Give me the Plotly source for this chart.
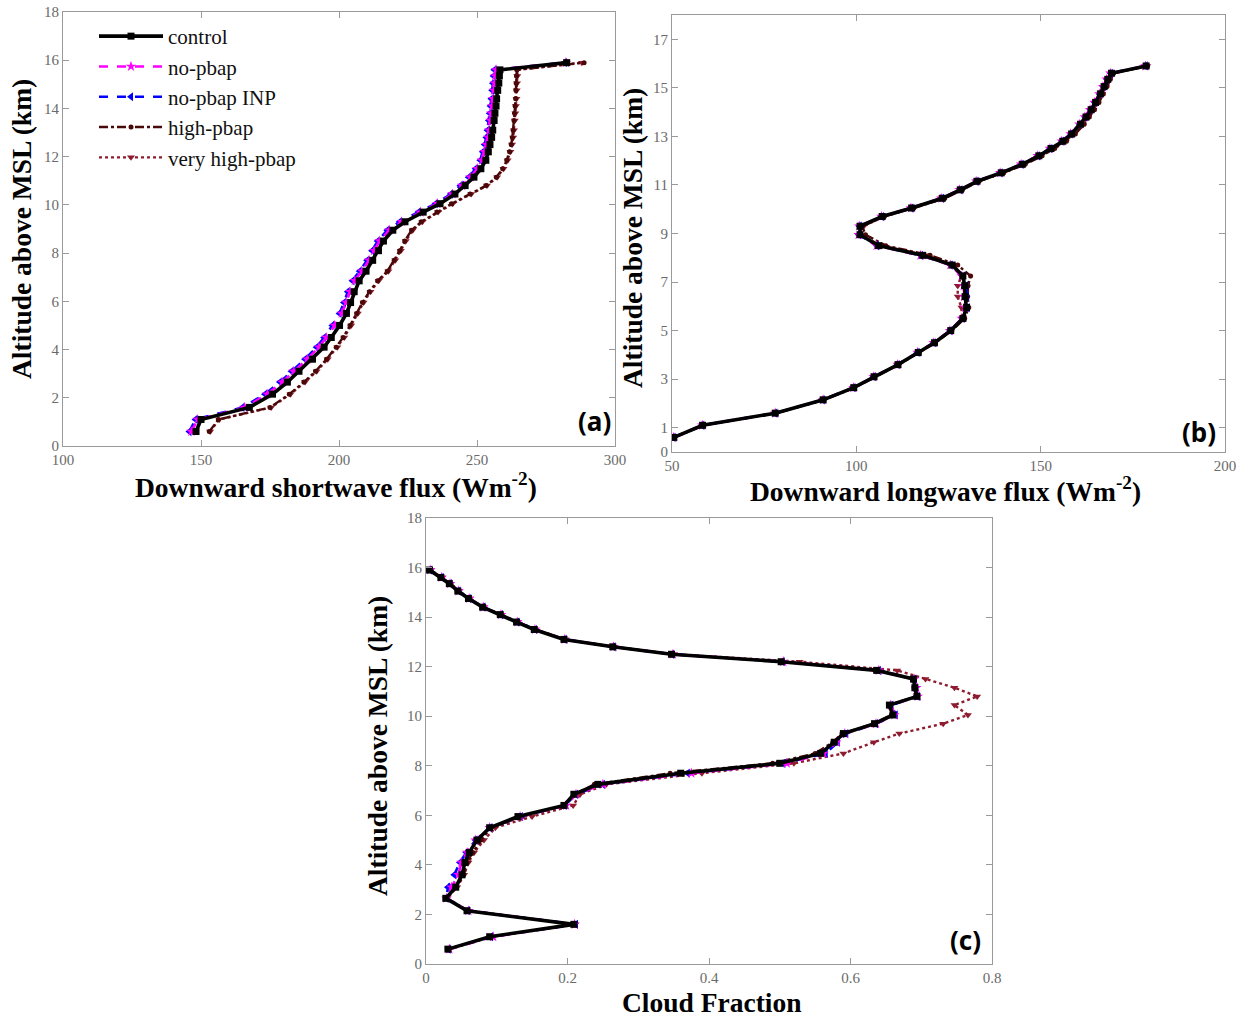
import plotly.graph_objects as go

# ---------------- data ----------------
levels = [0.6, 1.1, 1.6, 2.15, 2.65, 3.1, 3.6, 4.1, 4.5, 5.0, 5.5, 5.95, 6.4, 6.85,
          7.25, 7.7, 8.1, 8.5, 8.95, 9.3, 9.7, 10.05, 10.45, 10.8, 11.15, 11.5, 11.85,
          12.2, 12.5, 12.8, 13.1, 13.5, 13.8, 14.1, 14.4, 14.75, 15.05, 15.35, 15.6, 15.9]

series_names = ["control", "no-pbap", "no-pbap INP", "high-pbap", "very high-pbap"]

# (a) Downward shortwave flux (W m-2)
sw_control = [148.2, 150.0, 167.5, 175.9, 181.3, 185.5, 190.4, 194.6, 197.2, 200.2, 202.7, 204.2, 205.5, 207.3,
              209.8, 212.2, 214.3, 216.1, 219.5, 223.9, 230.5, 236.6, 242.0, 245.7, 248.9, 251.4, 253.2,
              254.1, 254.7, 255.3, 255.7, 256.2, 256.5, 256.9, 257.1, 257.5, 257.9, 258.1, 258.3, 282.5]
sw_nopbap = [146.5, 148.8, 165.8, 174.0, 179.4, 183.6, 188.5, 192.7, 195.4, 198.4, 201.0, 202.6, 204.0, 205.7,
             208.3, 210.9, 212.7, 214.7, 218.2, 222.7, 229.5, 235.6, 241.1, 244.6, 247.6, 250.1, 251.8,
             252.7, 253.4, 254.0, 254.4, 254.9, 255.2, 255.5, 255.8, 256.1, 256.4, 256.6, 256.9, 282.2]
sw_nopbap_inp = [145.8, 148.0, 165.0, 173.2, 178.6, 182.8, 187.7, 191.9, 194.6, 197.6, 200.2, 201.8, 203.2, 204.9,
                 207.5, 210.2, 212.0, 214.0, 217.5, 222.0, 228.8, 235.0, 240.5, 244.0, 247.0, 249.5, 251.2,
                 252.1, 252.8, 253.4, 253.8, 254.3, 254.6, 254.9, 255.2, 255.5, 255.8, 256.0, 256.3, 281.8]
sw_high = [153.0, 156.3, 175.0, 182.0, 187.3, 191.5, 195.5, 199.0, 201.5, 204.0, 206.4, 208.5, 211.0, 214.0,
           217.5, 220.0, 222.0, 223.8, 226.3, 229.8, 235.5, 240.8, 247.5, 253.3, 257.0, 259.3, 260.8,
           261.8, 262.4, 262.8, 263.1, 263.4, 263.6, 263.8, 264.0, 264.1, 264.2, 264.3, 264.4, 288.8]
sw_veryhigh = [153.3, 156.6, 175.4, 182.4, 187.7, 191.9, 195.9, 199.4, 201.9, 204.4, 206.8, 208.9, 211.4, 214.4,
               217.9, 220.4, 222.4, 224.2, 226.7, 230.2, 235.9, 241.2, 247.9, 253.6, 257.3, 259.6, 261.1,
               262.1, 262.7, 263.1, 263.4, 263.7, 263.9, 264.1, 264.3, 264.4, 264.5, 264.6, 264.7, 288.0]

# (b) Downward longwave flux (W m-2)
lw_control = [50.5, 58.3, 78.0, 91.0, 99.3, 104.8, 111.3, 116.8, 121.2, 125.6, 128.9, 129.9, 129.5, 129.4,
              128.9, 126.0, 118.0, 106.0, 101.0, 101.0, 107.0, 115.0, 123.3, 128.2, 132.7, 139.3, 145.0,
              149.5, 152.8, 156.0, 158.4, 160.8, 162.3, 163.7, 164.9, 166.2, 167.2, 168.2, 169.2, 178.6]
lw_nopbap = [50.4, 58.2, 78.0, 91.0, 99.2, 104.7, 111.2, 116.6, 121.0, 125.4, 128.6, 129.5, 129.2, 129.1,
             128.6, 125.5, 117.4, 105.5, 100.6, 100.8, 106.8, 114.8, 123.0, 128.0, 132.5, 139.0, 144.7,
             149.2, 152.5, 155.7, 158.1, 160.5, 162.0, 163.4, 164.6, 165.9, 166.9, 167.9, 168.9, 178.4]
lw_nopbap_inp = [50.4, 58.2, 78.0, 90.9, 99.2, 104.7, 111.2, 116.6, 121.0, 125.5, 128.8, 130.2, 130.0, 129.8,
                 129.0, 125.6, 117.5, 105.6, 100.7, 100.9, 106.9, 114.9, 123.2, 128.2, 132.6, 139.1, 144.8,
                 149.3, 152.6, 155.8, 158.2, 160.6, 162.1, 163.5, 164.7, 166.0, 167.0, 168.0, 169.0, 178.5]
lw_high = [50.6, 58.4, 78.2, 91.2, 99.5, 105.0, 111.5, 117.0, 121.4, 125.9, 129.4, 130.5, 130.2, 130.3,
           131.0, 127.5, 120.0, 108.0, 102.5, 101.6, 107.6, 115.6, 124.0, 128.8, 133.3, 140.0, 145.8,
           150.4, 153.8, 157.0, 159.4, 161.8, 163.2, 164.6, 165.8, 167.0, 168.0, 168.9, 169.8, 179.0]
lw_veryhigh = [50.6, 58.4, 78.2, 91.2, 99.4, 104.9, 111.4, 116.9, 121.3, 125.7, 128.7, 128.5, 127.5, 127.5,
               128.5, 126.5, 119.0, 107.0, 100.5, 102.0, 107.5, 115.5, 123.8, 128.6, 133.1, 139.8, 145.5,
               150.0, 153.4, 156.6, 159.0, 161.4, 162.9, 164.3, 165.5, 166.7, 167.7, 168.6, 169.6, 178.9]

# (c) Cloud fraction
cf_control = [0.031, 0.090, 0.209, 0.058, 0.028, 0.042, 0.051, 0.055, 0.061, 0.072, 0.090, 0.130, 0.195, 0.209,
              0.243, 0.360, 0.500, 0.558, 0.577, 0.590, 0.634, 0.660, 0.655, 0.694, 0.691, 0.689, 0.637,
              0.502, 0.347, 0.264, 0.195, 0.153, 0.128, 0.105, 0.080, 0.060, 0.045, 0.033, 0.021, 0.005]
cf_nopbap = [0.033, 0.095, 0.210, 0.060, 0.029, 0.036, 0.046, 0.050, 0.058, 0.070, 0.090, 0.133, 0.198, 0.212,
             0.250, 0.375, 0.510, 0.562, 0.580, 0.592, 0.636, 0.662, 0.657, 0.695, 0.693, 0.690, 0.640,
             0.505, 0.349, 0.265, 0.196, 0.154, 0.129, 0.106, 0.081, 0.061, 0.046, 0.034, 0.022, 0.006]
cf_nopbap_inp = [0.032, 0.092, 0.212, 0.059, 0.029, 0.031, 0.040, 0.048, 0.057, 0.070, 0.091, 0.134, 0.196, 0.212,
                 0.250, 0.370, 0.505, 0.565, 0.582, 0.594, 0.636, 0.664, 0.658, 0.695, 0.692, 0.690, 0.640,
                 0.504, 0.348, 0.265, 0.196, 0.154, 0.129, 0.106, 0.081, 0.061, 0.046, 0.034, 0.022, 0.006]
cf_high = [0.032, 0.091, 0.210, 0.059, 0.029, 0.043, 0.053, 0.058, 0.066, 0.078, 0.092, 0.136, 0.196, 0.211,
           0.238, 0.345, 0.490, 0.550, 0.575, 0.588, 0.633, 0.658, 0.654, 0.693, 0.690, 0.688, 0.638,
           0.503, 0.348, 0.265, 0.196, 0.154, 0.129, 0.106, 0.081, 0.061, 0.046, 0.034, 0.022, 0.006]
cf_veryhigh = [0.032, 0.093, 0.211, 0.060, 0.030, 0.044, 0.054, 0.060, 0.068, 0.082, 0.098, 0.150, 0.208, 0.218,
               0.255, 0.390, 0.520, 0.590, 0.633, 0.669, 0.731, 0.766, 0.747, 0.779, 0.747, 0.706, 0.666,
               0.528, 0.350, 0.266, 0.197, 0.155, 0.130, 0.107, 0.082, 0.062, 0.047, 0.035, 0.023, 0.007]

# tick settings
sw_ticks = [100, 150, 200, 250, 300]
lw_ticks = [50, 100, 150, 200]
cf_ticks = [0, 0.2, 0.4, 0.6, 0.8]
cf_ticktext = ["0", "0.2", "0.4", "0.6", "0.8"]
alt_ticks_ac = [0, 2, 4, 6, 8, 10, 12, 14, 16, 18]
alt_ticks_b = [0, 1, 3, 5, 7, 9, 11, 13, 15, 17]

# ---------------- styles ----------------
styles = {
    "control":        dict(color="#000000", dash="solid",   width=3.6, symbol="square",        msize=7),
    "no-pbap":        dict(color="#FF00FF", dash="dash",    width=2.6, symbol="star",          msize=8),
    "no-pbap INP":    dict(color="#0000FF", dash="dash",    width=2.6, symbol="triangle-left", msize=8),
    "high-pbap":      dict(color="#4A0808", dash="dashdot", width=2.4, symbol="circle",        msize=5),
    "very high-pbap": dict(color="#8E1B2E", dash="dot",     width=2.4, symbol="triangle-down", msize=7),
}

panels = [
    ("x", "y", [sw_control, sw_nopbap, sw_nopbap_inp, sw_high, sw_veryhigh], True),
    ("x2", "y2", [lw_control, lw_nopbap, lw_nopbap_inp, lw_high, lw_veryhigh], False),
    ("x3", "y3", [cf_control, cf_nopbap, cf_nopbap_inp, cf_high, cf_veryhigh], False),
]

fig = go.Figure()
draw_order = [4, 3, 2, 1, 0]
for xa, ya, data, show in panels:
    for i in draw_order:
        name = series_names[i]
        st = styles[name]
        fig.add_trace(go.Scatter(
            x=data[i], y=levels, mode="lines+markers", name=name,
            xaxis=xa, yaxis=ya, showlegend=show, legendrank=i + 1,
            line=dict(color=st["color"], dash=st["dash"], width=st["width"]),
            marker=dict(symbol=st["symbol"], size=st["msize"], color=st["color"],
                        line=dict(width=0)),
        ))

# Full-window figure; the page's default body margin is removed after plotting.
W, H = 1248, 1021
def fx(p):
    return p / W
def fy(p):
    return 1 - p / H
def px_x(a, b):
    return [fx(a), fx(b)]
def px_y(top, bottom):
    return [fy(bottom), fy(top)]

tickfont = dict(family="Liberation Serif", size=15, color="#6a6a6a")
common = dict(showline=True, linecolor="#9a9a9a", linewidth=1, mirror="ticks",
              ticks="inside", ticklen=6, tickcolor="#9a9a9a", tickwidth=1,
              showgrid=False, zeroline=False, tickfont=tickfont, automargin=False)

fig.update_layout(
    template="none",
    width=W, height=H, margin=dict(l=0, r=0, t=0, b=0, autoexpand=False),
    paper_bgcolor="white", plot_bgcolor="white",
    xaxis=dict(domain=px_x(63, 615), range=[100, 300], tickvals=sw_ticks, anchor="y", **common),
    yaxis=dict(domain=px_y(12, 446), range=[0, 18], tickvals=alt_ticks_ac, anchor="x", **common),
    xaxis2=dict(domain=px_x(672, 1225), range=[50, 200], tickvals=lw_ticks, anchor="y2", **common),
    yaxis2=dict(domain=px_y(15, 452), range=[0, 18], tickvals=alt_ticks_b, anchor="x2", **common),
    xaxis3=dict(domain=px_x(426, 992), range=[0, 0.8], tickvals=cf_ticks,
                ticktext=cf_ticktext, anchor="y3", **common),
    yaxis3=dict(domain=px_y(518, 964), range=[0, 18], tickvals=alt_ticks_ac, anchor="x3", **common),
    legend=dict(x=fx(94), y=fy(16), xanchor="left", yanchor="top",
                bgcolor="rgba(0,0,0,0)", borderwidth=0, itemwidth=64,
                font=dict(family="Liberation Serif", size=21, color="#111111"),
                tracegroupgap=0),
    showlegend=True,
)

title_font = dict(family="Liberation Serif", size=27.5, color="#000000")
label_font = dict(family="Noto Sans", size=26, color="#000000")
annots = [
    dict(text="<b>Altitude above MSL (km)</b>", x=fx(21), y=fy(229), textangle=-90, font=title_font),
    dict(text="<b>Altitude above MSL (km)</b>", x=fx(633), y=fy(238), textangle=-90, font=title_font),
    dict(text="<b>Altitude above MSL (km)</b>", x=fx(377), y=fy(746), textangle=-90, font=title_font),
    dict(text="<b>Downward shortwave flux (Wm<sup>-2</sup>)</b>", x=fx(336), y=fy(485), font=title_font),
    dict(text="<b>Downward longwave flux (Wm<sup>-2</sup>)</b>", x=fx(945), y=fy(489), font=title_font),
    dict(text="<b>Cloud Fraction</b>", x=fx(712), y=fy(1002), font=title_font),
    dict(text="<b>(a)</b>", x=fx(594), y=fy(421), font=label_font),
    dict(text="<b>(b)</b>", x=fx(1199), y=fy(432), font=label_font),
    dict(text="<b>(c)</b>", x=fx(965), y=fy(940), font=label_font),
]
for a in annots:
    fig.add_annotation(xref="paper", yref="paper", showarrow=False,
                       xanchor="center", yanchor="middle", **a)

fig.write_html("out.html",
               config={"displayModeBar": False},
               post_script="document.body.style.margin='0';document.body.style.overflow='hidden';")
